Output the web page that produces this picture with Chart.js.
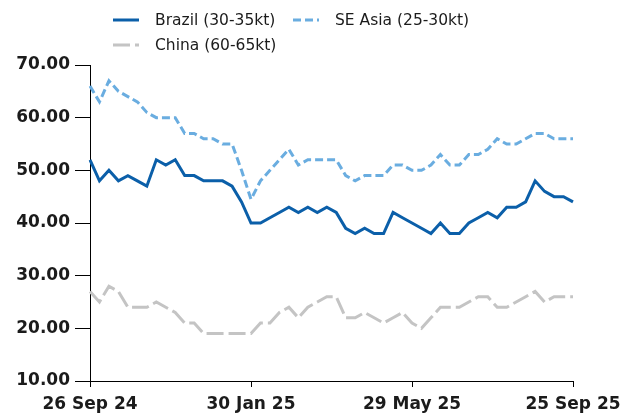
<!DOCTYPE html>
<html>
<head>
<meta charset="utf-8">
<script src="https://cdn.jsdelivr.net/npm/chart.js@4.4.1/dist/chart.umd.min.js"></script>
<style>
    body { margin: 0; background: #fff; }
    #wrap { position: relative; width: 637px; height: 419px; }
    #chart { position: absolute; left: 0; top: 0; }
    .legend-item {
        position: absolute;
        display: flex;
        align-items: center;
        font-family: 'DejaVu Sans', Verdana, sans-serif;
        font-size: 15.5px;
        color: #1b1b1b;
        white-space: nowrap;
    }
    .legend-item svg { margin-right: 16px; }
</style>
</head>
<body>
<div id="wrap">
    <canvas id="chart" width="637" height="419"></canvas>
</div>
<script>
// **************************
//    DATA
// **************************
const dates = [
    "26 Sep 24", "3 Oct 24", "10 Oct 24", "17 Oct 24", "24 Oct 24", "31 Oct 24",
    "7 Nov 24", "14 Nov 24", "21 Nov 24", "28 Nov 24", "5 Dec 24", "12 Dec 24",
    "19 Dec 24", "2 Jan 25", "9 Jan 25", "16 Jan 25", "23 Jan 25", "30 Jan 25",
    "6 Feb 25", "13 Feb 25", "20 Feb 25", "27 Feb 25", "6 Mar 25", "13 Mar 25",
    "20 Mar 25", "27 Mar 25", "3 Apr 25", "10 Apr 25", "17 Apr 25", "24 Apr 25",
    "1 May 25", "8 May 25", "15 May 25", "22 May 25", "29 May 25", "5 Jun 25",
    "12 Jun 25", "19 Jun 25", "26 Jun 25", "3 Jul 25", "10 Jul 25", "17 Jul 25",
    "24 Jul 25", "31 Jul 25", "7 Aug 25", "14 Aug 25", "21 Aug 25", "28 Aug 25",
    "4 Sep 25", "11 Sep 25", "18 Sep 25", "25 Sep 25"
];

// only these dates get a label and a tick mark
const tickDates = ["26 Sep 24", "30 Jan 25", "29 May 25", "25 Sep 25"];

const brazil = [
    52, 48, 50, 48, 49, 48, 47, 52, 51, 52, 49, 49, 48,
    48, 48, 47, 44, 40, 40, 41, 42, 43, 42, 43, 42, 43,
    42, 39, 38, 39, 38, 38, 42, 41, 40, 39, 38, 40, 38,
    38, 40, 41, 42, 41, 43, 43, 44, 48, 46, 45, 45, 44
];

const seAsia = [
    66, 63, 67, 65, 64, 63, 61, 60, 60, 60, 57, 57, 56,
    56, 55, 55, 50, 44.5, 48, 50, 52, 54, 51, 52, 52, 52,
    52, 49, 48, 49, 49, 49, 51, 51, 50, 50, 51, 53, 51,
    51, 53, 53, 54, 56, 55, 55, 56, 57, 57, 56, 56, 56
];

const china = [
    27, 25, 28, 27, 24, 24, 24, 25, 24, 23, 21, 21, 19,
    19, 19, 19, 19, 19, 21, 21, 23, 24, 22, 24, 25, 26,
    26, 22, 22, 23, 22, 21, 22, 23, 21, 20, 22, 24, 24,
    24, 25, 26, 26, 24, 24, 25, 26, 27, 25, 26, 26, 26
];

const seriesNames = ["Brazil (30-35kt)", "SE Asia (25-30kt)", "China (60-65kt)"];
const seriesColors = ["#0b5fa9", "#6aade0", "#c4c4c4"];
const seriesDashes = [[], [8, 4], [17, 5]];

const yTicks = [10, 20, 30, 40, 50, 60, 70];

// **************************
//    LEGEND (html)
// **************************
const legendSpots = [
    { x: 113, y: 20 },
    { x: 293, y: 20 },
    { x: 113, y: 45 }
];

const wrap = document.getElementById("wrap");
seriesNames.forEach((name, i) => {
    const item = document.createElement("div");
    item.className = "legend-item";
    item.style.left = legendSpots[i].x + "px";
    item.style.top = (legendSpots[i].y - 10) + "px";
    item.style.height = "20px";
    const dash = seriesDashes[i].length ? seriesDashes[i].join(" ") : "none";
    item.innerHTML =
        '<svg width="26" height="6"><line x1="0" y1="3" x2="26" y2="3" stroke="' +
        seriesColors[i] + '" stroke-width="3" stroke-dasharray="' + dash + '"/></svg>' +
        '<span>' + name + '</span>';
    wrap.appendChild(item);
});

// **************************
//    CHART
// **************************
Chart.defaults.font.family = "'DejaVu Sans', Verdana, sans-serif";
Chart.defaults.color = "#1b1b1b";

const allSeries = [brazil, seAsia, china];

new Chart(document.getElementById("chart"), {
    type: "line",
    data: {
        labels: dates,
        datasets: allSeries.map((values, i) => ({
            label: seriesNames[i],
            data: values,
            borderColor: seriesColors[i],
            backgroundColor: seriesColors[i],
            borderDash: seriesDashes[i],
            borderWidth: 3,
            pointRadius: 0,
            tension: 0,
            fill: false
        }))
    },
    options: {
        responsive: false,
        animation: false,
        devicePixelRatio: 1,
        layout: { padding: { top: 65, right: 64, left: 0, bottom: 0 } },
        plugins: {
            legend: { display: false },
            tooltip: { enabled: false }
        },
        scales: {
            x: {
                type: "category",
                offset: false,
                afterBuildTicks: (scale) => {
                    scale.ticks = scale.ticks.filter(t => tickDates.includes(dates[t.value]));
                },
                afterFit: (scale) => { scale.height = 38; },
                ticks: {
                    autoSkip: false,
                    maxRotation: 0,
                    padding: 7,
                    color: "#1b1b1b",
                    font: { size: 17, weight: "bold" }
                },
                grid: {
                    drawOnChartArea: false,
                    tickLength: 6,
                    color: "#000"
                },
                border: { display: true, color: "#000", width: 1 }
            },
            y: {
                min: 10,
                max: 70,
                afterBuildTicks: (scale) => {
                    scale.ticks = yTicks.map(v => ({ value: v }));
                },
                afterFit: (scale) => { scale.width = 90; },
                ticks: {
                    padding: 5,
                    color: "#1b1b1b",
                    font: { size: 17, weight: "bold" },
                    callback: (v) => Number(v).toFixed(2)
                },
                grid: {
                    drawOnChartArea: false,
                    tickLength: 15,
                    color: "#000"
                },
                border: { display: true, color: "#000", width: 1 }
            }
        }
    }
});
</script>
</body>
</html>
